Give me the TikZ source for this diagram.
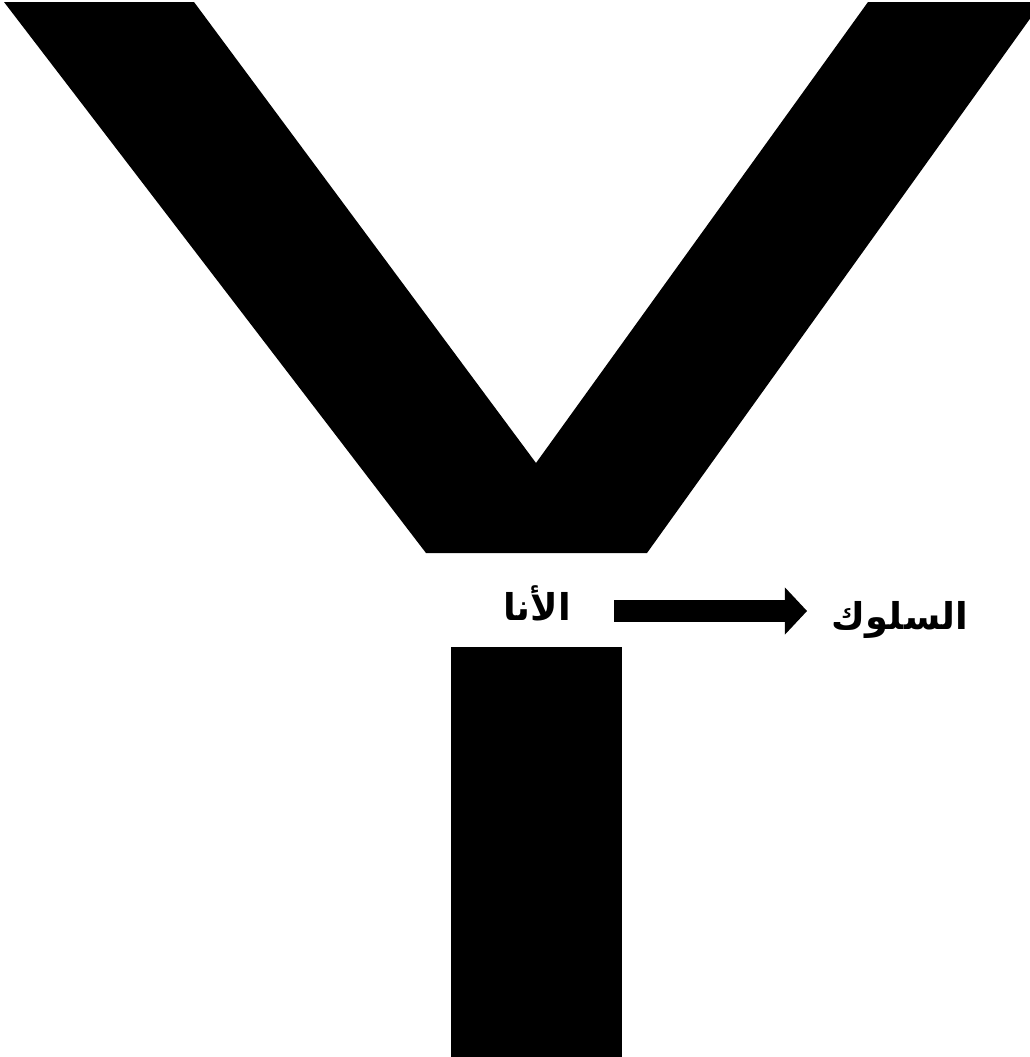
\documentclass[tikz,border=0pt]{standalone}
\usepackage{fontspec}
\newfontfamily\arabicfont[Script=Arabic]{DejaVu Sans}
\TeXXeTstate=1
\usetikzlibrary{positioning, calc, arrows.meta}

\begin{document}
\begin{tikzpicture}[
    x=0.01cm, y=-0.01cm,
    yshape/.style={fill=black, draw=none},
    arlabel/.style={font=\arabicfont\bfseries\fontsize{10.5}{13}\selectfont, inner sep=0pt},
    blockarrow/.style={line width=0.22cm, -{Triangle[length=0.22cm, width=0.47cm, line width=0pt]}}
]

% Canvas
\useasboundingbox (0,0) rectangle (1030,1057);
\clip (0,0) rectangle (1030,1057);

% Arms of the Y
\fill[yshape] (4,2) -- (194,2) -- (536,463) -- (868,2) -- (1042,2)
    -- (647,553) -- (426,553) -- cycle;

% Stem of the Y
\fill[yshape] (451,647) rectangle (622,1060);

% Labels
\node[arlabel] (ego) at (537,603) {\beginR الأنا\endR};
\node[arlabel] (behaviour) at (900,620) {\beginR السلوك\endR};

% Arrow from ego to behaviour
\coordinate (arrstart) at (614,611);
\coordinate (arrend) at (807,611);
\draw[blockarrow] (arrstart) -- (arrend);

\end{tikzpicture}
\end{document}
